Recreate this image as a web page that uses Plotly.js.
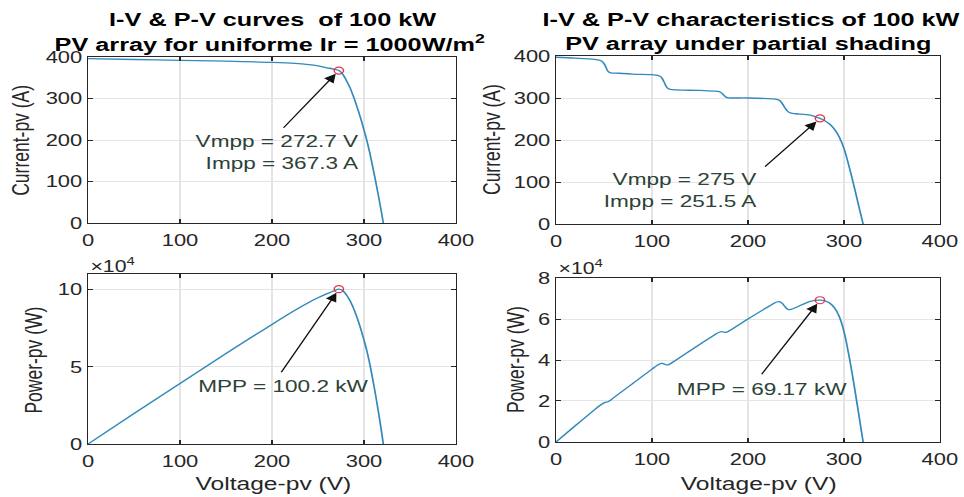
<!DOCTYPE html>
<html><head><meta charset="utf-8">
<script src="https://cdn.plot.ly/plotly-3.0.1.min.js"></script>
<style>
html,body{margin:0;padding:0;overflow:hidden;background:#fff;}
#wrap{width:964px;height:497px;overflow:hidden;}
#plot{width:725px;height:497px;transform:scaleX(1.32966);transform-origin:0 0;}
</style></head><body><div id="wrap"><div id="plot"></div></div>
<script>
// ---- data ----
// uniform irradiance (1000 W/m2)
const vUniform = [0, 50, 100, 150, 200, 225, 240, 250, 260, 267, 272.7, 277, 281, 285, 288, 292, 296, 300, 303, 306, 310, 313, 316, 319, 321];
const iUniform = [396, 394, 392, 390, 387, 384.5, 381.5, 378.5, 374, 371, 367.3, 358, 343, 325, 308, 283, 255, 224, 200, 172, 130, 97, 62, 26, 0];
const pUniform = [0, 19700, 39200, 58500, 77400, 86500, 91600, 94600, 97300, 99000, 100200, 99200, 96400, 92600, 88700, 82600, 75500, 67200, 60600, 52600, 40300, 30400, 19600, 8300, 0];

// partial shading
const vShade = [0, 20, 40, 45, 48, 50, 52, 54, 57, 65, 80, 100, 106, 109, 111, 113, 115, 117, 121, 150, 165, 170, 173, 175, 177, 180, 200, 225, 230, 233, 236, 239, 242, 245, 250, 265, 275, 280, 285, 290, 295, 300, 305, 310, 315, 320];
const iShade = [397, 395, 392, 390, 387, 382, 373, 364, 360, 359, 357, 355.5, 354, 351, 345, 336, 327, 322, 320, 318, 316.5, 315, 311, 306, 302, 300.5, 300, 298, 297, 294, 286, 275, 267, 264, 262.5, 259, 251.5, 246, 238, 226, 208, 180, 140, 95, 47, 0];
const pShade = [0, 7900, 15680, 17550, 18580, 19100, 19400, 19660, 20520, 23340, 28560, 35550, 37520, 38260, 38300, 37970, 37600, 37670, 38720, 47700, 52220, 53550, 53800, 53550, 53450, 54090, 60000, 67050, 68310, 68500, 67500, 65730, 64610, 64680, 65630, 68640, 69170, 68880, 67830, 65540, 61360, 54000, 42700, 29450, 14800, 0];

const mppUniform = {v: 272.7, i: 367.3, p: 100200};
const mppShade = {v: 275, i: 251.5, p: 69170};

const xTicks = [0, 100, 200, 300, 400];
const xTickText = ['0', '100', '200', '300', '400'];
const iTicks = [0, 100, 200, 300, 400];
const iTickText = ['0', '100', '200', '300', '400'];
const pTicksL = [0, 50000, 100000];
const pTickTextL = ['0', '5', '10'];
const pTicksR = [0, 20000, 40000, 60000, 80000];
const pTickTextR = ['0', '2', '4', '6', '8'];

// ---- styling ----
const FONT = 'Liberation Sans, Arial, Helvetica, sans-serif';
const AX = '#262626';
const LINE = '#3389bb';
const MARK = '#e8344a';
const TXT = '#2d4238';

function ax(domain, range, tv, tt, anchor, isX) {
  const a = {
    domain: domain, range: range, anchor: anchor,
    tickmode: 'array', tickvals: tv, ticktext: tt,
    ticks: 'inside', ticklen: 4, tickwidth: 1, tickcolor: AX,
    showline: true, linecolor: AX, linewidth: 1, mirror: 'ticks',
    showgrid: true, gridcolor: '#e4e4e4', gridwidth: 1, zeroline: false,
    tickfont: {family: FONT, size: 16.5, color: AX},
    fixedrange: true
  };
  if (isX) a.ticklabelstandoff = 2;
  return a;
}

const lineStyle = {color: LINE, width: 1.3, shape: 'spline', smoothing: 1};
const markStyle = {symbol: 'circle-open', size: 7, color: MARK, line: {width: 1.1}};

const traces = [
  {x: vUniform, y: iUniform, xaxis: 'x', yaxis: 'y', mode: 'lines', line: lineStyle},
  {x: [mppUniform.v], y: [mppUniform.i], xaxis: 'x', yaxis: 'y', mode: 'markers', marker: markStyle},
  {x: vShade, y: iShade, xaxis: 'x2', yaxis: 'y2', mode: 'lines', line: lineStyle},
  {x: [mppShade.v], y: [mppShade.i], xaxis: 'x2', yaxis: 'y2', mode: 'markers', marker: markStyle},
  {x: vUniform, y: pUniform, xaxis: 'x3', yaxis: 'y3', mode: 'lines', line: lineStyle},
  {x: [mppUniform.v], y: [mppUniform.p], xaxis: 'x3', yaxis: 'y3', mode: 'markers', marker: markStyle},
  {x: vShade, y: pShade, xaxis: 'x4', yaxis: 'y4', mode: 'lines', line: lineStyle},
  {x: [mppShade.v], y: [mppShade.p], xaxis: 'x4', yaxis: 'y4', mode: 'markers', marker: markStyle}
];

const H = 497, W = 964;
const px = v => v / W, py = v => 1 - v / H;
const tFont = {family: FONT, size: 19, color: '#000'};
const lFont = {family: FONT, size: 17.5, color: AX};
const aFont = {family: FONT, size: 17, color: TXT};

function paperText(x, y, text, font, extra) {
  return Object.assign({xref: 'paper', yref: 'paper', x: x, y: y, text: text, showarrow: false, font: font, xanchor: 'center', yanchor: 'middle'}, extra || {});
}
function arrow(xr, yr, x, y, tx, ty) {
  return {xref: xr, yref: yr, axref: xr, ayref: yr, x: x, y: y, ax: tx, ay: ty, text: '', showarrow: true,
    arrowhead: 2, arrowsize: 1.6, arrowwidth: 1.1, arrowcolor: '#111', standoff: 4};
}

const annotations = [
  paperText(px(272.5), py(19), '<b>I-V &amp; P-V curves\u00A0 of 100 kW</b>', tFont),
  paperText(px(270), py(43), '<b>PV array for uniforme Ir = 1000W/m<sup>2</sup></b>', tFont),
  paperText(px(751), py(19), '<b>I-V &amp; P-V characteristics of 100 kW</b>', tFont),
  paperText(px(748), py(43), '<b>PV array under partial shading</b>', tFont),
  paperText(px(21), py(140), 'Current-pv (A)', lFont, {textangle: -90}),
  paperText(px(492), py(140), 'Current-pv (A)', lFont, {textangle: -90}),
  paperText(px(34), py(360), 'Power-pv (W)', lFont, {textangle: -90}),
  paperText(px(516), py(360), 'Power-pv (W)', lFont, {textangle: -90}),
  paperText(px(273), py(483), 'Voltage-pv (V)', {family: FONT, size: 18.5, color: AX}),
  paperText(px(758), py(483), 'Voltage-pv (V)', {family: FONT, size: 18.5, color: AX}),
  paperText(px(88), py(265), '\u00D710<sup>4</sup>', {family: FONT, size: 16, color: AX}, {xanchor: 'left'}),
  paperText(px(556), py(267), '\u00D710<sup>4</sup>', {family: FONT, size: 16, color: AX}, {xanchor: 'left'}),
  arrow('x', 'y', mppUniform.v, mppUniform.i, 211, 226),
  arrow('x2', 'y2', mppShade.v, mppShade.i, 216, 133),
  arrow('x3', 'y3', mppUniform.v, mppUniform.p, 209, 45500),
  arrow('x4', 'y4', mppShade.v, mppShade.p, 213, 32300),
  {xref: 'x', yref: 'y', x: 298, y: 170, text: 'Vmpp = 272.7 V<br>Impp = 367.3 A', showarrow: false, xanchor: 'right', yanchor: 'middle', align: 'right', font: aFont},
  {xref: 'x2', yref: 'y2', x: 211.5, y: 80, text: 'Vmpp = 275 V<br>Impp = 251.5 A', showarrow: false, xanchor: 'right', yanchor: 'middle', align: 'right', font: aFont},
  {xref: 'x3', yref: 'y3', x: 212, y: 37500, text: 'MPP = 100.2 kW', showarrow: false, xanchor: 'center', yanchor: 'middle', font: aFont},
  {xref: 'x4', yref: 'y4', x: 215, y: 25700, text: 'MPP = 69.17 kW', showarrow: false, xanchor: 'center', yanchor: 'middle', font: aFont}
];

const layout = {
  width: 725, height: 497,
  margin: {l: 0, r: 0, t: 0, b: 0},
  paper_bgcolor: '#fff', plot_bgcolor: '#fff',
  showlegend: false,
  xaxis: ax([0.0913, 0.473], [0, 400], xTicks, xTickText, 'y', true),
  yaxis: ax([0.5513, 0.8853], [0, 400], iTicks, iTickText, 'x'),
  xaxis2: ax([0.5768, 0.975], [0, 400], xTicks, xTickText, 'y2', true),
  yaxis2: ax([0.5493, 0.8873], [0, 400], iTicks, iTickText, 'x2'),
  xaxis3: ax([0.0913, 0.473], [0, 400], xTicks, xTickText, 'y3', true),
  yaxis3: ax([0.1066, 0.4487], [0, 110000], pTicksL, pTickTextL, 'x3'),
  xaxis4: ax([0.5768, 0.975], [0, 400], xTicks, xTickText, 'y4', true),
  yaxis4: ax([0.1107, 0.4406], [0, 80000], pTicksR, pTickTextR, 'x4'),
  annotations: annotations
};

Plotly.newPlot('plot', traces, layout, {staticPlot: true, displayModeBar: false});
</script></body></html>
